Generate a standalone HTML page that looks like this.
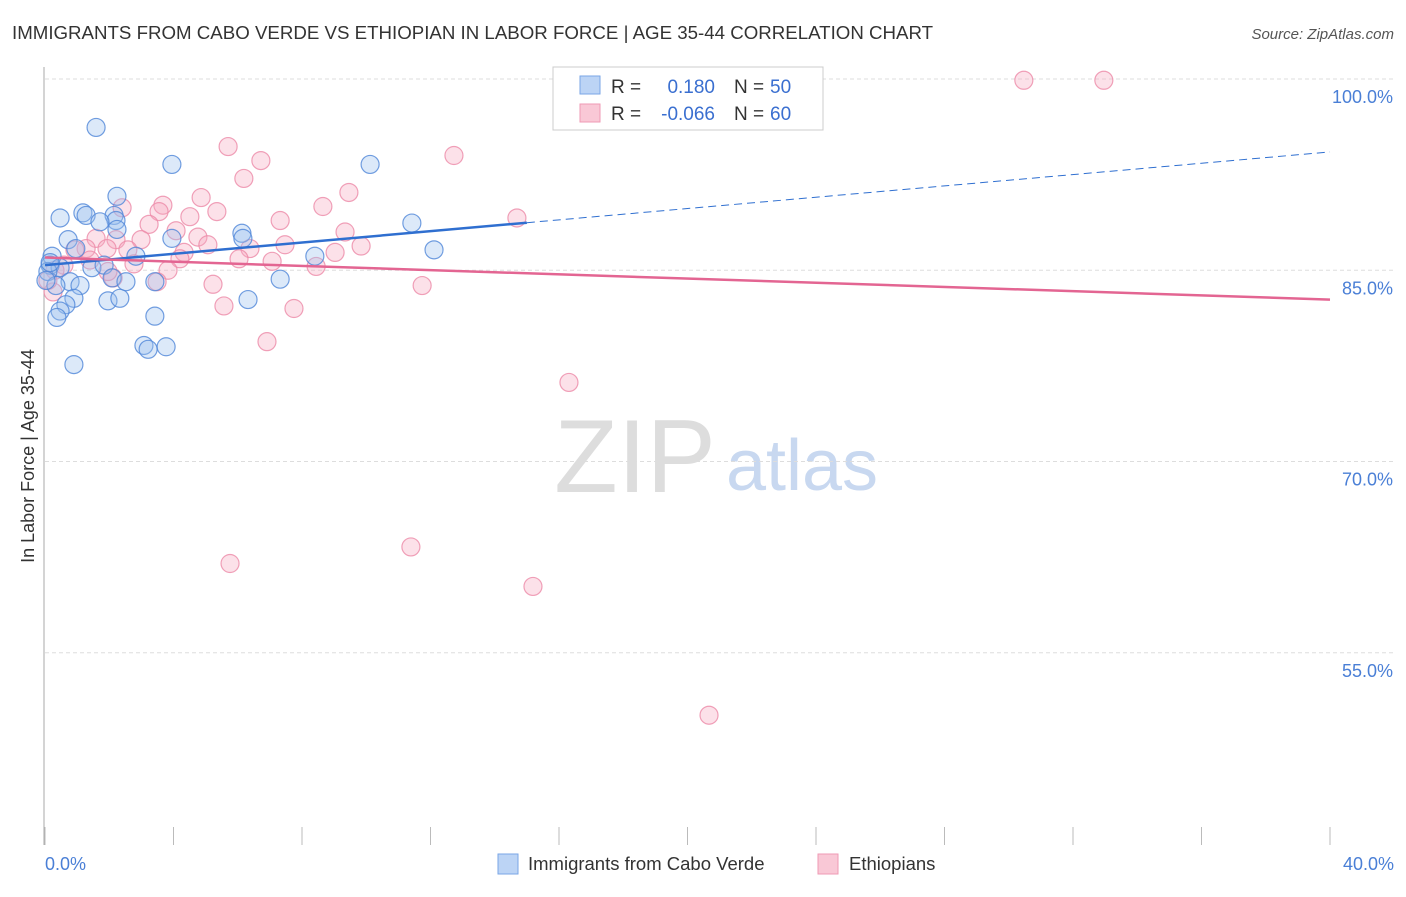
<!DOCTYPE html>
<html><head><meta charset="utf-8"><style>
body{margin:0;background:#fff;font-family:"Liberation Sans",sans-serif;}
svg text{font-family:"Liberation Sans",sans-serif;}
</style></head><body>
<svg width="1406" height="892">
<text x="12" y="39" font-size="18.7" fill="#333">IMMIGRANTS FROM CABO VERDE VS ETHIOPIAN IN LABOR FORCE | AGE 35-44 CORRELATION CHART</text>
<text x="1394" y="39" font-size="15" fill="#555" font-style="italic" text-anchor="end">Source: ZipAtlas.com</text>
<text x="635" y="492" font-size="104" fill="#ddd" font-family="Liberation Serif" text-anchor="middle">ZIP</text>
<text x="802" y="490" font-size="72" fill="#c8d8f0" text-anchor="middle">atlas</text>
<g id="grid"></g><g id="ticks"></g>
<line x1="44" y1="67" x2="44" y2="845" stroke="#aaa"/>
<text transform="translate(34,456) rotate(-90)" font-size="18" fill="#333" text-anchor="middle">In Labor Force | Age 35-44</text>
<text x="45" y="870" font-size="18" fill="#4a7fd6">0.0%</text>
<text x="1394" y="870" font-size="18" fill="#4a7fd6" text-anchor="end">40.0%</text>
<g id="pts"></g><g id="lines"></g>
<g>
<rect x="553" y="67" width="270" height="63" fill="#fff" stroke="#ccc"/>
<rect x="580" y="76" width="20" height="18" fill="#bcd4f5" stroke="#7aa6e6"/>
<rect x="580" y="104" width="20" height="18" fill="#f9c8d6" stroke="#ef9ab4"/>
<text x="611" y="93" font-size="19" fill="#333">R = </text><text x="715" y="93" font-size="19" fill="#3a6fd0" text-anchor="end">0.180</text>
<text x="734" y="93" font-size="19" fill="#333">N = </text><text x="770" y="93" font-size="19" fill="#3a6fd0">50</text>
<text x="611" y="120" font-size="19" fill="#333">R = </text><text x="715" y="120" font-size="19" fill="#3a6fd0" text-anchor="end">-0.066</text>
<text x="734" y="120" font-size="19" fill="#333">N = </text><text x="770" y="120" font-size="19" fill="#3a6fd0">60</text>
</g>
<g><rect x="498" y="854" width="20" height="20" fill="#bcd4f5" stroke="#7aa6e6"/><text x="528" y="870" font-size="18.5" fill="#333">Immigrants from Cabo Verde</text></g>
<g><rect x="818" y="854" width="20" height="20" fill="#f9c8d6" stroke="#ef9ab4"/><text x="849" y="870" font-size="18.5" fill="#333">Ethiopians</text></g>
</svg>
<script>
const yTicks=[100,85,70,55];
const xTickVals=[0,4,8,12,16,20,24,28,32,36,40];
const blueX=[1.59,3.95,10.12,2.24,0.47,1.18,1.28,2.15,2.21,1.71,11.42,2.24,0.72,3.95,6.13,6.16,12.11,0.22,0.96,2.83,8.40,0.16,0.47,1.46,1.84,0.09,2.09,2.52,0.78,1.09,3.42,7.32,0.34,0.90,1.96,2.33,6.32,0.65,0.47,0.37,3.42,3.08,3.21,3.77,0.90,0.16,0.03];
const blueY=[96.2,93.3,93.3,90.8,89.1,89.5,89.3,89.3,88.9,88.8,88.7,88.2,87.4,87.5,87.9,87.5,86.6,86.1,86.7,86.1,86.1,85.4,85.2,85.2,85.4,84.9,84.4,84.1,84.1,83.8,84.1,84.3,83.8,82.8,82.6,82.8,82.7,82.3,81.8,81.3,81.4,79.1,78.8,79.0,77.6,85.6,84.2];
const pinkX=[30.47,32.96,5.70,6.72,12.73,6.19,9.46,4.86,2.40,3.67,3.55,5.35,4.51,8.65,14.69,7.32,3.24,9.34,4.08,4.76,1.59,2.21,5.07,7.47,9.84,2.99,1.28,1.93,2.58,9.03,6.38,4.33,4.20,6.04,7.07,2.77,8.44,3.83,0.59,0.31,2.12,3.49,5.23,11.74,5.57,7.75,6.91,16.31,11.39,5.76,15.19,20.67,0.25,0.09,1.40,0.93,1.96];
const pinkY=[99.9,99.9,94.7,93.6,94.0,92.2,91.1,90.7,89.9,90.1,89.6,89.6,89.2,90.0,89.1,88.9,88.6,88.0,88.1,87.6,87.5,87.4,87.0,87.0,86.9,87.4,86.7,86.7,86.6,86.4,86.7,86.4,85.9,85.9,85.7,85.5,85.3,85.0,85.4,85.0,84.4,84.1,83.9,83.8,82.2,82.0,79.4,76.2,63.3,62.0,60.2,50.1,83.3,84.2,85.8,86.6,84.9];
const blueTrend=[85.4,0.222];
const pinkTrend=[86.0,82.7];
const NS='http://www.w3.org/2000/svg';
const sx=v=>45+v*1285/40, sy=v=>79+(100-v)*12.75;
function mk(t,a,p){const e=document.createElementNS(NS,t);for(const k in a)e.setAttribute(k,a[k]);document.getElementById(p).appendChild(e);return e;}
yTicks.forEach(t=>{
 const l=mk('line',{x1:45,x2:1394,y1:sy(t),y2:sy(t),stroke:'#ddd','stroke-dasharray':'4,3'},'grid');
 
 
 const tx=mk('text',{x:1393,y:sy(t)+24,'font-size':18,fill:'#4a7fd6','text-anchor':'end'},'grid');
 tx.textContent=t.toFixed(1)+'%';
 
 
});
xTickVals.forEach(t=>{
 const l=mk('line',{x1:sx(t),x2:sx(t),y1:827,y2:845,stroke:'#bbb'},'ticks');
 
 
});
function pts(X,Y,f,s,n){X.forEach((x,i)=>{
 const c=mk('circle',{cx:sx(x),cy:sy(Y[i]),r:9,fill:f,'fill-opacity':0.35,stroke:s,'stroke-opacity':0.8,'stroke-width':1.2},'pts');
 
 
});}
pts(pinkX,pinkY,'#f7a8c0','#ec8aa8','ethiopian-point');
pts(blueX,blueY,'#9cc0ef','#4f86d8','cabo-verde-point');
let l=mk('line',{x1:sx(0),y1:sy(blueTrend[0]),x2:sx(15),y2:sy(blueTrend[0]+blueTrend[1]*15),stroke:'#2f6fd0','stroke-width':2.5},'lines');


l=mk('line',{x1:sx(15),y1:sy(blueTrend[0]+blueTrend[1]*15),x2:sx(40),y2:sy(blueTrend[0]+blueTrend[1]*40),stroke:'#2f6fd0','stroke-width':1,'stroke-dasharray':'8,5'},'lines');


l=mk('line',{x1:sx(0),y1:sy(pinkTrend[0]),x2:sx(40),y2:sy(pinkTrend[1]),stroke:'#e36592','stroke-width':2.5},'lines');


</script>
</body></html>
